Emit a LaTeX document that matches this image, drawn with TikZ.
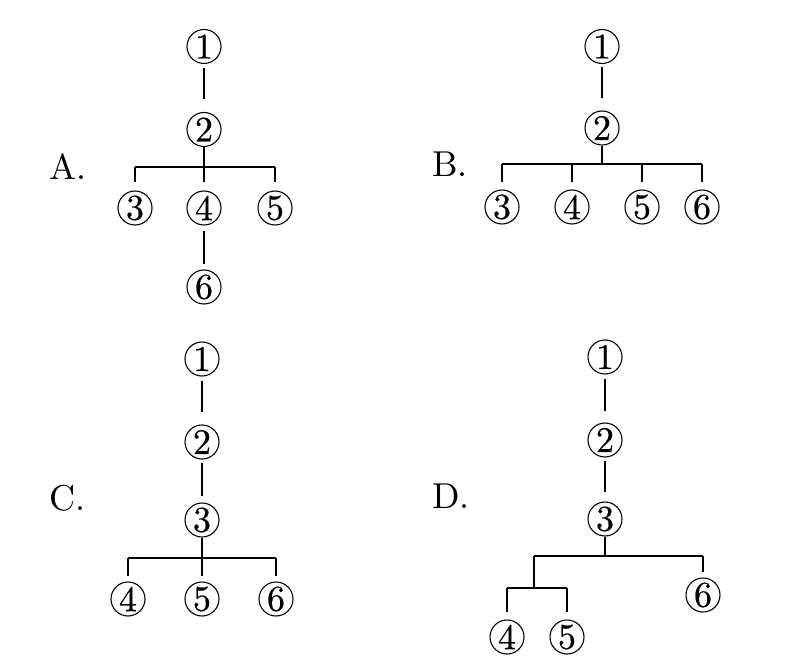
\documentclass[tikz,border=0pt]{standalone}
\usepackage{fontspec}
\newfontfamily\numfont{lmroman10-regular.otf}[FakeBold=0.6]
\newfontfamily\labfont{lmroman10-regular.otf}
\begin{document}
\begin{tikzpicture}[x=1pt,y=-1pt,
  num/.style={circle,draw,line width=1.1pt,minimum size=34pt,inner sep=0pt,font=\numfont\fontsize{36}{36}\selectfont},
  lab/.style={anchor=west,inner sep=0pt,font=\labfont\fontsize{36}{36}\selectfont},
  conn/.style={line width=1.3pt},
  sh/.style 2 args={conn,shorten <=#1pt,shorten >=#2pt},
  drop/.style={conn,shorten >=#1pt}]
\useasboundingbox (0,0) rectangle (787,668);
% ---------- A ----------
\node[lab] (LA) at (49,167) {A.};
\node[num] (A1) at (204,46.5) {1};
\node[num] (A2) at (204,129.5) {2};
\node[num] (A3) at (135,208) {3};
\node[num] (A4) at (204,208) {4};
\node[num] (A5) at (275,208) {5};
\node[num] (A6) at (204,287) {6};
\coordinate (Ab) at (204,167);
\draw[sh={3.5}{12.5}] (A1) -- (A2);
\draw[conn] (A2) -- (A2 |- Ab);
\draw[conn] (A3 |- Ab) -- (A5 |- Ab);
\draw[drop=8] (A3 |- Ab) -- (A3);
\draw[drop=8] (A4 |- Ab) -- (A4);
\draw[drop=8] (A5 |- Ab) -- (A5);
\draw[sh={5}{5}] (A4) -- (A6);
% ---------- B ----------
\node[lab] (LB) at (432,164) {B.};
\node[num] (B1) at (602,46.5) {1};
\node[num] (B2) at (602,128) {2};
\node[num] (B3) at (502,207) {3};
\node[num] (B4) at (572,207) {4};
\node[num] (B5) at (642,207) {5};
\node[num] (B6) at (702,207) {6};
\coordinate (Bb) at (602,164);
\draw[sh={3}{12}] (B1) -- (B2);
\draw[conn] (B2) -- (B2 |- Bb);
\draw[conn] (B3 |- Bb) -- (B6 |- Bb);
\draw[drop=7] (B3 |- Bb) -- (B3);
\draw[drop=7] (B4 |- Bb) -- (B4);
\draw[drop=7] (B5 |- Bb) -- (B5);
\draw[drop=7] (B6 |- Bb) -- (B6);
% ---------- C ----------
\node[lab] (LC) at (49,498) {C.};
\node[num] (C1) at (202,359) {1};
\node[num] (C2) at (202,442) {2};
\node[num] (C3) at (202,520) {3};
\node[num] (C4) at (128,599) {4};
\node[num] (C5) at (202,599) {5};
\node[num] (C6) at (276,599) {6};
\coordinate (Cb) at (202,558);
\draw[sh={4}{12}] (C1) -- (C2);
\draw[sh={3}{6}] (C2) -- (C3);
\draw[conn] (C3) -- (C3 |- Cb);
\draw[conn] (C4 |- Cb) -- (C6 |- Cb);
\draw[drop=5] (C4 |- Cb) -- (C4);
\draw[drop=5] (C5 |- Cb) -- (C5);
\draw[drop=5] (C6 |- Cb) -- (C6);
% ---------- D ----------
\node[lab] (LD) at (432,496) {D.};
\node[num] (D1) at (605,357) {1};
\node[num] (D2) at (605,440) {2};
\node[num] (D3) at (605,519) {3};
\node[num] (D4) at (507,637) {4};
\node[num] (D5) at (567,637) {5};
\node[num] (D6) at (703,595) {6};
\coordinate (Db) at (605,556);
\coordinate (Dl) at (534,556);
\coordinate (Dm) at (534,588);
\draw[sh={4}{11}] (D1) -- (D2);
\draw[sh={3}{9}] (D2) -- (D3);
\draw[conn] (D3) -- (D3 |- Db);
\draw[conn] (Dl) -- (D6 |- Db);
\draw[drop=5] (D6 |- Db) -- (D6);
\draw[conn] (Dl) -- (Dm);
\draw[conn] (D4 |- Dm) -- (D5 |- Dm);
\draw[drop=7] (D4 |- Dm) -- (D4);
\draw[drop=7] (D5 |- Dm) -- (D5);
\end{tikzpicture}
\end{document}
